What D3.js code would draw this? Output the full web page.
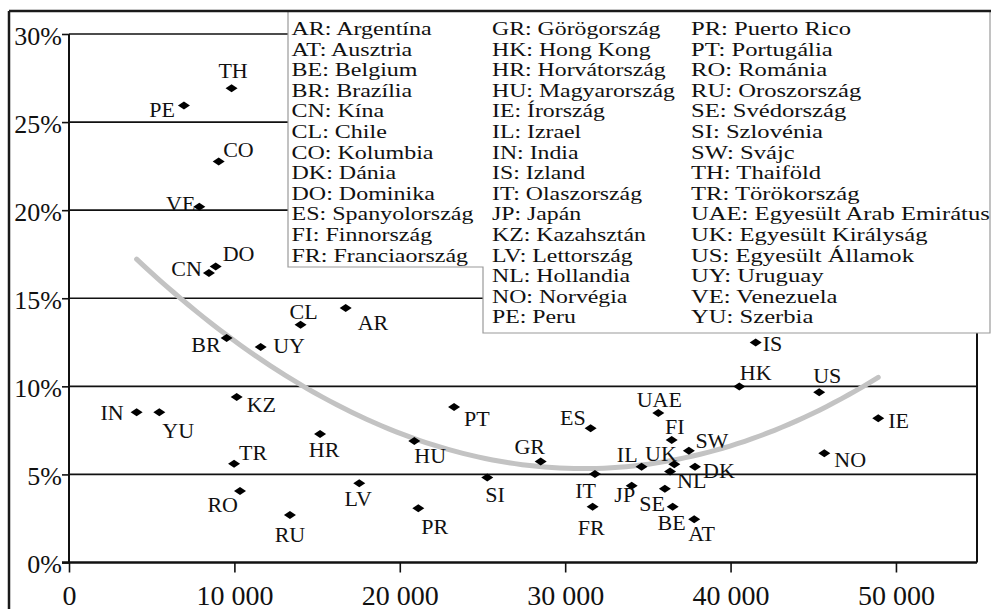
<!DOCTYPE html>
<html>
<head>
<meta charset="utf-8">
<script src="https://cdn.jsdelivr.net/npm/d3@7"></script>
<style>
  html, body { margin: 0; padding: 0; background: #fff; }
  svg { display: block; font-family: "Liberation Serif", "Times New Roman", Tinos, serif; }
</style>
</head>
<body>
<svg id="chart" width="991" height="609"></svg>
<script>
// Country codes, GDP per capita and the percentage on the vertical axis
const countryCodes = ["AR","AT","BE","BR","CN","CL","CO","DK","DO","ES","FI","FR",
  "GR","HK","HR","HU","IE","IL","IN","IS","IT","JP","KZ","LV","NL","NO","PE",
  "PR","PT","RO","RU","SE","SI","SW","TH","TR","UAE","UK","US","UY","VE","YU"];
const gdpValues = [16730, 37800, 36500, 9530, 8460, 14000, 9050, 37850, 8870, 31540, 36440, 31660,
  28520, 40530, 15180, 20880, 48930, 34620, 4090, 41520, 31800, 34020, 10140, 17550, 36340, 45670, 6950,
  21120, 23280, 10340, 13360, 36030, 25290, 37480, 9830, 9980, 35630, 36600, 45360, 11590, 7880, 5460];
const percentValues = [14.44, 2.45, 3.17, 12.74, 16.43, 13.5, 22.76, 5.44, 16.8, 7.62, 6.96, 3.17,
  5.73, 9.99, 7.3, 6.9, 8.19, 5.44, 8.53, 12.49, 5.03, 4.35, 9.39, 4.5, 5.16, 6.2, 25.94,
  3.08, 8.82, 4.06, 2.7, 4.18, 4.82, 6.34, 26.92, 5.6, 8.48, 5.58, 9.67, 12.23, 20.2, 8.53];

// Quadratic trend: percent = c0 + c1*g + c2*g^2, with g in thousands
const trendCoefficients = [21.089, -1.01322, 0.016288];

// Legend columns
const legendColumn1 = ["AR: Argentína","AT: Ausztria","BE: Belgium","BR: Brazília","CN: Kína",
  "CL: Chile","CO: Kolumbia","DK: Dánia","DO: Dominika","ES: Spanyolország","FI: Finnország",
  "FR: Franciaország"];
const legendColumn2 = ["GR: Görögország","HK: Hong Kong","HR: Horvátország","HU: Magyarország",
  "IE: Írország","IL: Izrael","IN: India","IS: Izland","IT: Olaszország","JP: Japán",
  "KZ: Kazahsztán","LV: Lettország","NL: Hollandia","NO: Norvégia","PE: Peru"];
const legendColumn3 = ["PR: Puerto Rico","PT: Portugália","RO: Románia","RU: Oroszország",
  "SE: Svédország","SI: Szlovénia","SW: Svájc","TH: Thaiföld","TR: Törökország",
  "UAE: Egyesült Arab Emirátus","UK: Egyesült Királyság","US: Egyesült Államok","UY: Uruguay",
  "VE: Venezuela","YU: Szerbia"];

// Axis ticks
const xTickValues = [0, 10000, 20000, 30000, 40000, 50000];
const yTickValues = [0, 5, 10, 15, 20, 25, 30];

// Label placement around each marker: [dx, baseline dy, anchor]
const labelPlacement = {
  TH:[1.5,-10.5,"middle"], PE:[-9,11,"end"], CO:[4.5,-5,"start"], VE:[-4,4,"end"],
  DO:[7,-5.5,"start"], CN:[-7,3,"end"], BR:[-6,14,"end"], UY:[12.5,5.5,"start"],
  CL:[3,-6,"middle"], AR:[12,22,"start"], IS:[7,9,"start"], HK:[0.5,-6.5,"start"],
  US:[8,-9.5,"middle"], IE:[10,10,"start"], NO:[10,14,"start"], FI:[3,-5.5,"middle"],
  SW:[6.5,-3,"start"], DK:[8,11,"start"], UK:[2.5,-3,"end"], NL:[7,16,"start"],
  IL:[-4,-5,"end"], JP:[3.5,16,"end"], SE:[0,22,"end"], BE:[-1,23,"middle"],
  AT:[-6,22,"start"], UAE:[1,-6,"middle"], ES:[-5,-3.3,"end"], IT:[1,24,"end"],
  FR:[-1.5,28,"middle"], GR:[-11,-8,"middle"], SI:[-2,24,"start"], PT:[10,19,"start"],
  HU:[0,22,"start"], PR:[3,26,"start"], LV:[-1,23,"middle"], HR:[4,23,"middle"],
  KZ:[10,15,"start"], IN:[-13,8,"end"], YU:[3,26,"start"], TR:[5,-4,"start"],
  RO:[-2,21,"end"], RU:[0,27,"middle"]
};

const serif = '"Liberation Serif", "Times New Roman", Tinos, serif';

const svg = d3.select("#chart").attr("font-family", serif);

const x = d3.scaleLinear().domain([0, 54900]).range([69, 977]);
const y = d3.scaleLinear().domain([0, 30]).range([562.5, 34]);

function serifText(sel, size) {
  return sel.attr("font-family", serif).style("font-family", serif)
    .attr("font-size", size).style("font-size", size + "px").attr("fill", "#111");
}

// Outer frame (left edge)
svg.append("line").attr("x1", 9).attr("x2", 9).attr("y1", 11).attr("y2", 609)
  .attr("stroke", "#1a1a1a").attr("stroke-width", 2.5);

// Horizontal grid lines
svg.append("g").selectAll("line").data(yTickValues.filter(v => v > 0)).join("line")
  .attr("x1", x.range()[0]).attr("x2", x.range()[1])
  .attr("y1", d => y(d)).attr("y2", d => y(d))
  .attr("stroke", "#111").attr("stroke-width", 1.6);

// Plot frame: left axis line and right border
svg.append("line").attr("x1", x.range()[0]).attr("x2", x.range()[0])
  .attr("y1", y(30)).attr("y2", y(0)).attr("stroke", "#111").attr("stroke-width", 2);
svg.append("line").attr("x1", x.range()[1]).attr("x2", x.range()[1])
  .attr("y1", y(30)).attr("y2", y(0)).attr("stroke", "#111").attr("stroke-width", 2);

// Y axis
const fmtPct = d => d + "%";
const yAxis = svg.append("g").attr("transform", `translate(${x.range()[0]},0)`)
  .call(d3.axisLeft(y).tickValues(yTickValues).tickSize(7).tickPadding(0).tickFormat(fmtPct));
yAxis.attr("font-family", serif).attr("font-size", 26);
yAxis.select(".domain").remove();
yAxis.selectAll(".tick line").attr("stroke", "#111").attr("stroke-width", 1.6);
serifText(yAxis.selectAll(".tick text").attr("dy", null).attr("y", 10), 26);

// X axis
const huLocale = d3.formatLocale({decimal: ",", thousands: " ", grouping: [3], currency: ["", ""]});
const xAxis = svg.append("g").attr("transform", `translate(0,${y(0)})`)
  .call(d3.axisBottom(x).tickValues(xTickValues).tickSize(10).tickFormat(huLocale.format(",d")));
xAxis.attr("font-family", serif).attr("font-size", 28);
xAxis.select(".domain").remove();
xAxis.selectAll(".tick line").attr("stroke", "#111").attr("stroke-width", 1.6);
serifText(xAxis.selectAll(".tick text").attr("dy", null).attr("y", 42), 28);

svg.append("line").attr("x1", x.range()[0] - 7).attr("x2", x.range()[1])
  .attr("y1", y(0)).attr("y2", y(0)).attr("stroke", "#111").attr("stroke-width", 2.5);

// Legend box (stepped outline) with the three columns
const lg = svg.append("g");
lg.append("path")
  .attr("d", "M288,11 L288,267 L483,267 L483,333 L990,333 L990,11 Z")
  .attr("fill", "#fff").attr("stroke", "#9a9a9a").attr("stroke-width", 1.2);
// [entries, left x, width of the widest entry]
[[legendColumn1, 291.5, 182], [legendColumn2, 492, 183], [legendColumn3, 691, 299]]
  .forEach(([items, lx, widest]) => {
    const col = lg.append("g");
    const texts = serifText(col.selectAll("text").data(items).join("text"), 19.5)
      .attr("x", 0).attr("y", (d, i) => 35 + i * 20.6)
      .text(d => d);
    let maxW = 0;
    texts.each(function() { maxW = Math.max(maxW, this.getComputedTextLength()); });
    const sx = maxW > 0 ? widest / maxW : 1;
    col.attr("transform", `translate(${lx},0) scale(${sx},1)`);
  });

// Outer frame (top edge)
svg.append("line").attr("x1", 9).attr("x2", 991).attr("y1", 11).attr("y2", 11)
  .attr("stroke", "#1a1a1a").attr("stroke-width", 2.5);

// Trend curve across the range of the data
const trend = g => {
  const u = g / 1000;
  return trendCoefficients[0] + trendCoefficients[1] * u + trendCoefficients[2] * u * u;
};
const [xMin, xMax] = d3.extent(gdpValues);
const trendXs = d3.range(0, 101).map(i => xMin + (xMax - xMin) * i / 100);
svg.append("path")
  .attr("d", d3.line().x(d => x(d)).y(d => y(trend(d)))(trendXs))
  .attr("fill", "none").attr("stroke", "#c3c3c3").attr("stroke-width", 5)
  .attr("stroke-linecap", "round");

// Markers and labels
const points = countryCodes.map((c, i) => ({code: c, gx: gdpValues[i], py: percentValues[i]}));
const diamond = "M-6,0 L0,-4 L6,0 L0,4 Z";
svg.append("g").selectAll("path").data(points).join("path")
  .attr("d", diamond)
  .attr("transform", d => `translate(${x(d.gx)},${y(d.py)})`)
  .attr("fill", "#000");
serifText(svg.append("g").selectAll("text").data(points).join("text"), 22)
  .attr("x", d => x(d.gx) + labelPlacement[d.code][0])
  .attr("y", d => y(d.py) + labelPlacement[d.code][1])
  .attr("text-anchor", d => labelPlacement[d.code][2])
  .text(d => d.code);
</script>
</body>
</html>
